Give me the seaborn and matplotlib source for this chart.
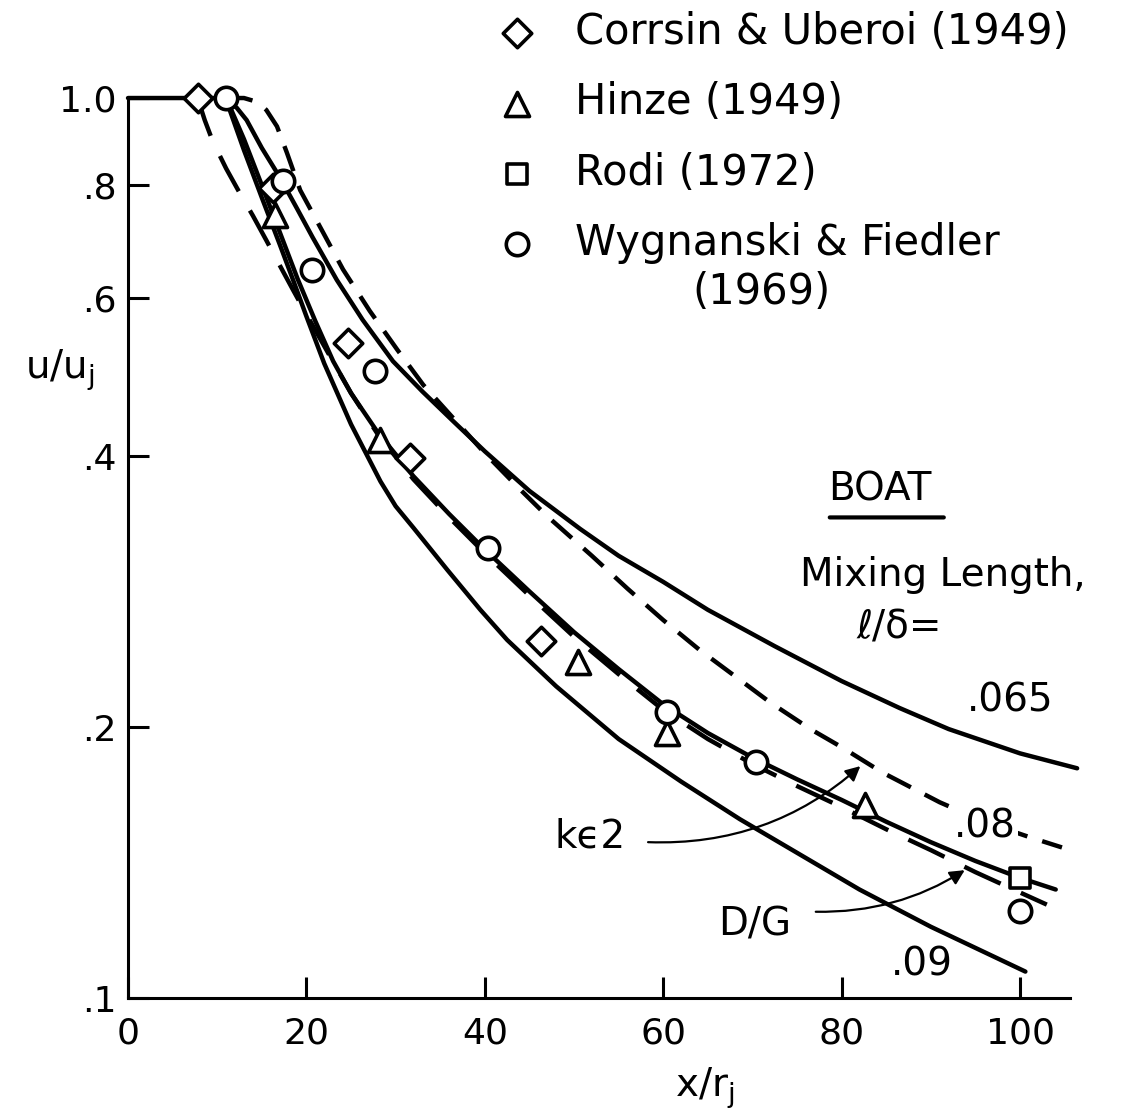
import pandas as pd
import seaborn as sns
import matplotlib.pyplot as plt
from matplotlib.ticker import NullLocator

sns.set_style('ticks')
plt.rcParams['font.family'] = ['DejaVu Sans']
plt.rcParams['mathtext.fontset'] = 'dejavusans'
plt.rcParams['text.color'] = 'black'
plt.rcParams['axes.labelcolor'] = 'black'

# --- experimental points (x/rj, u/uj) ---
corrsin_x = [7.8, 16.3, 24.7, 31.6, 46.3]
corrsin_y = [1.0, 0.794, 0.534, 0.398, 0.249]

hinze_x = [16.5, 28.3, 50.4, 60.4, 82.6]
hinze_y = [0.741, 0.417, 0.236, 0.197, 0.164]

rodi_x = [100.0]
rodi_y = [0.136]

wyg_x = [11.0, 17.4, 20.6, 27.7, 40.4, 60.4, 70.4, 100.0]
wyg_y = [1.0, 0.809, 0.644, 0.497, 0.316, 0.208, 0.183, 0.125]

# --- computed curves ---
# mixing length l/delta = .065
ml065_x = [11, 12.2, 13.3, 15, 17, 19, 20.7, 23.4, 26.3, 29.7, 33, 36.5, 40, 45,
           50.7, 55, 60, 65, 72.5, 80, 86.5, 92, 100, 106.4]
ml065_y = [1.0, 0.975, 0.945, 0.88, 0.817, 0.752, 0.70, 0.628, 0.567, 0.51, 0.472,
           0.437, 0.405, 0.366, 0.332, 0.31, 0.29, 0.27, 0.246, 0.225, 0.21, 0.199,
           0.187, 0.180]

# mixing length l/delta = .08 (starts with the potential core at u/uj = 1)
ml08_x = [0, 11, 13, 15, 17, 19, 21, 23, 25, 28, 32, 36, 40, 45, 50, 55, 60, 65,
          70, 75, 80, 85, 90, 95, 100, 104]
ml08_y = [1.0, 1.0, 0.90, 0.80, 0.71, 0.63, 0.565, 0.51, 0.47, 0.425, 0.38, 0.345,
          0.315, 0.283, 0.255, 0.232, 0.212, 0.197, 0.185, 0.175, 0.166, 0.157,
          0.149, 0.142, 0.136, 0.132]

# mixing length l/delta = .09
ml09_x = [11, 11.4, 13, 15, 17, 18.5, 20, 22, 25, 28.3, 30, 32, 35.8, 39.5, 42.5,
          48, 55, 62, 68.6, 75, 82, 90, 100.6]
ml09_y = [1.0, 0.97, 0.875, 0.775, 0.688, 0.628, 0.572, 0.507, 0.434, 0.375, 0.352,
          0.333, 0.299, 0.27, 0.25, 0.222, 0.194, 0.174, 0.158, 0.145, 0.132, 0.12,
          0.107]

# k-epsilon 2 model
ke2_x = [11, 13, 14.5, 15.5, 16.7, 17.8, 19.3, 21.9, 24.1, 27.1, 30.2, 33.1, 36.9,
         40, 44, 47, 52, 56, 60, 64, 68, 72, 76.5, 80, 84.6, 91, 96, 101, 104.7]
ke2_y = [1.0, 1.0, 0.99, 0.97, 0.93, 0.87, 0.79, 0.708, 0.645, 0.58, 0.525, 0.48,
         0.436, 0.403, 0.367, 0.343, 0.31, 0.285, 0.263, 0.244, 0.228, 0.213,
         0.199, 0.19, 0.178, 0.165, 0.157, 0.151, 0.147]

# D/G model
dg_x = [7.8, 8.6, 9.5, 11, 12.5, 14, 15.5, 17, 18.5, 20, 21.5, 23, 25, 28, 32, 36,
        40, 45, 50, 55, 60, 65, 70, 75, 80, 85, 90, 95, 100, 103]
dg_y = [1.0, 0.945, 0.895, 0.835, 0.785, 0.74, 0.695, 0.652, 0.612, 0.575, 0.541,
        0.509, 0.47, 0.423, 0.377, 0.342, 0.312, 0.28, 0.252, 0.229, 0.209, 0.194,
        0.182, 0.172, 0.163, 0.154, 0.146, 0.138, 0.131, 0.127]

curves = pd.concat([
    pd.DataFrame({'x': ml065_x, 'y': ml065_y, 'curve': '.065'}),
    pd.DataFrame({'x': ml08_x, 'y': ml08_y, 'curve': '.08'}),
    pd.DataFrame({'x': ml09_x, 'y': ml09_y, 'curve': '.09'}),
    pd.DataFrame({'x': ke2_x, 'y': ke2_y, 'curve': 'ke2'}),
    pd.DataFrame({'x': dg_x, 'y': dg_y, 'curve': 'DG'}),
], ignore_index=True)
curve_dashes = {'.065': '', '.08': '', '.09': '', 'ke2': (6, 3.5), 'DG': (9, 5)}

fig = plt.figure(figsize=(11.25, 11.14), dpi=100)
ax = fig.add_axes([0.1138, 0.1041, 0.8373, 0.8079])
ax.set_yscale('log')

sns.lineplot(data=curves, x='x', y='y', style='curve', dashes=curve_dashes,
             color='black', linewidth=3.2, estimator=None, sort=False,
             legend=False, clip_on=False, ax=ax)

# data symbols (hollow)
pts = [
    (corrsin_x, corrsin_y, 'D', 210, 'Corrsin & Uberoi (1949)'),
    (hinze_x, hinze_y, '^', 300, 'Hinze (1949)'),
    (rodi_x, rodi_y, 's', 210, 'Rodi (1972)'),
    (wyg_x, wyg_y, 'o', 260, 'Wygnanski & Fiedler'),
]
for xs, ys, mk, sz, name in pts:
    sns.scatterplot(x=xs, y=ys, marker=mk, s=sz, color='white', edgecolor='black',
                    linewidth=2.6, label=name, zorder=5, clip_on=False, ax=ax)

ax.set_xlim(0, 105.6)
ax.set_ylim(0.1, 1.0)
ax.set_xticks([0, 20, 40, 60, 80, 100])
ax.set_xticklabels(['0', '20', '40', '60', '80', '100'])
ax.set_yticks([0.1, 0.2, 0.4, 0.6, 0.8, 1.0])
ax.set_yticklabels(['.1', '.2', '.4', '.6', '.8', '1.0'])
ax.yaxis.set_minor_locator(NullLocator())
ax.tick_params(direction='in', length=15, width=2.2, labelsize=26, colors='black')
ax.tick_params(axis='x', pad=13)
ax.tick_params(axis='y', pad=8)
for s in ['top', 'right']:
    ax.spines[s].set_visible(False)
for s in ['left', 'bottom']:
    ax.spines[s].set_linewidth(2.2)
    ax.spines[s].set_color('black')

ax.set_xlabel('x/r$_\\mathregular{j}$', fontsize=28)
ax.xaxis.set_label_coords(0.6125, -0.1)
ax.xaxis.label.set_va('center')
ax.set_ylabel('u/u$_\\mathregular{j}$', fontsize=28, rotation=0, ha='center', va='center')
ax.yaxis.set_label_coords(-0.072, 0.698)

leg = ax.legend(loc='upper left', bbox_to_anchor=(0.441, 0.99),
                bbox_transform=fig.transFigure, frameon=False, fontsize=30,
                handlelength=1.0, handletextpad=0.9, labelspacing=0.68,
                borderpad=0, borderaxespad=0)
fig.text(762 / 1125, 1 - 292 / 1114, '(1969)', fontsize=30, ha='center', va='center')

# labels in the plot
txt = dict(fontsize=28, ha='center', va='center')
ax.text(84.3, 0.367, 'BOAT', **txt)
ax.annotate('', xy=(0.869, 0.534), xytext=(0.742, 0.534), xycoords='axes fraction',
            arrowprops=dict(arrowstyle='-', lw=3, color='black'))
ax.text(91.3, 0.295, 'Mixing Length,', **txt)
ax.text(86.5, 0.258, 'ℓ/δ=', **txt)
ax.text(98.9, 0.214, '.065', **txt)
ax.text(96.1, 0.155, '.08', zorder=4,
        bbox=dict(boxstyle='square,pad=0.05', fc='white', ec='none'), **txt)
ax.text(89.0, 0.109, '.09', **txt)
ax.text(51.8, 0.151, 'k\u03f52', **txt)
ax.text(70.3, 0.1206, 'D/G', **txt)

arrow = dict(arrowstyle='-|>', lw=1.6, color='black', mutation_scale=22,
             shrinkA=0, shrinkB=0)
ax.annotate('', xy=(82.1, 0.181), xytext=(58.3, 0.149),
            arrowprops=dict(connectionstyle='arc3,rad=0.2', **arrow))
ax.annotate('', xy=(93.8, 0.1387), xytext=(77.1, 0.1247),
            arrowprops=dict(connectionstyle='arc3,rad=0.15', **arrow))

fig.savefig('out.png', dpi=100, facecolor='white')
